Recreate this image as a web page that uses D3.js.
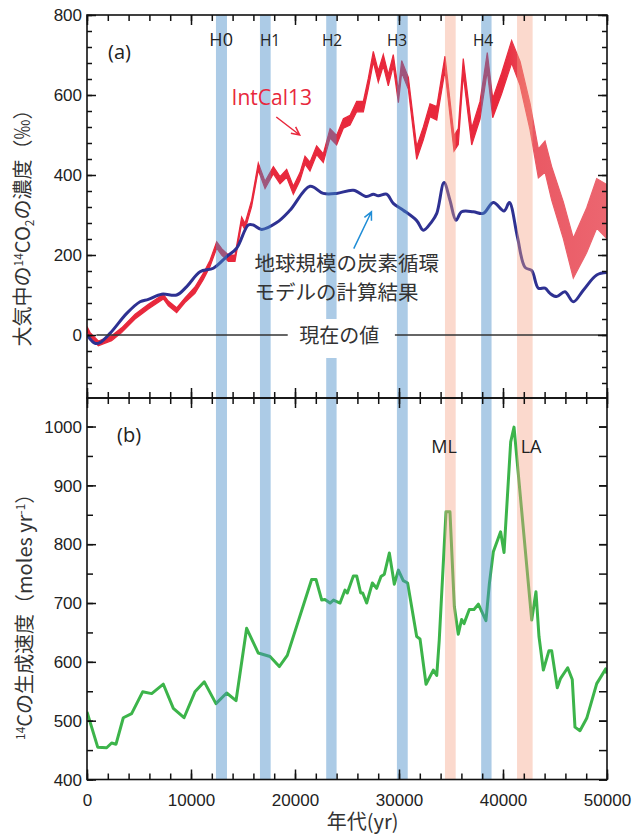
<!DOCTYPE html>
<html>
<head>
<meta charset="utf-8">
<script src="https://cdn.jsdelivr.net/npm/d3@7"></script>
<style>
  body { margin: 0; background: #fff; }
  svg { display: block; }
  .tick text { font-family: "Liberation Sans", Arial, sans-serif; font-size: 17px; fill: #222; }
  .jp { font-family: "Noto Sans CJK JP", sans-serif; fill: #333; }
  .lat { font-family: "Open Sans", sans-serif; fill: #222; }
</style>
</head>
<body>
<svg width="635" height="834"></svg>
<script>
const WIDTH = 635, HEIGHT = 834;
const LEFT = 87, RIGHT = 607, TOP = 15, MID = 398, BOTTOM = 779.5;

// IntCal13 (centre and half width of the band), per mil
const icYear = [0, 300, 1090, 2370, 3330, 4620, 5900, 7340, 7820, 8620, 9420, 10380, 11180, 11830, 12470, 12950,
  13590, 14230, 14870, 15190, 15830, 16470, 17120, 17920, 18560, 19200, 19840, 20480, 20960, 21440, 22080, 22720,
  23370, 24000, 24650, 25290, 25930, 26570, 27050, 27530, 28010, 28490, 28970, 29450, 29940, 30260, 30900, 31700,
  32340, 32980, 33630, 34420, 35290, 35700, 36180, 36990, 37790, 38490, 39010, 39870, 40830, 41640, 42600, 43400,
  44040, 44680, 45800, 46760, 48050, 49010, 50000];
const icMid = [15, 0, -21, -8, 12, 46, 71, 96, 79, 62, 87, 112, 146, 179, 225, 208,
  192, 192, 287, 271, 329, 421, 375, 412, 387, 404, 362, 396, 437, 421, 462, 442,
  504, 487, 529, 537, 571, 571, 629, 696, 646, 687, 637, 687, 596, 671, 629, 455,
  504, 562, 554, 679, 479, 496, 671, 496, 562, 683, 567, 629, 708, 654, 546, 429,
  446, 379, 287, 192, 262, 329, 308];
const icErr = [6, 6, 6, 6, 6, 6, 6, 6, 6, 6, 6, 8, 8, 8, 8, 8,
  8, 8, 8, 8, 8, 9, 9, 9, 9, 10, 10, 10, 10, 11, 11, 11,
  12, 12, 12, 12, 13, 13, 13, 13, 14, 14, 14, 14, 15, 15, 15, 16,
  16, 16, 17, 18, 19, 20, 20, 21, 22, 23, 24, 26, 28, 30, 33, 36,
  39, 42, 46, 50, 56, 62, 68];

// carbon cycle model, per mil
const modelYear = [0, 770, 1250, 2210, 3820, 5100, 5900, 7180, 8620, 9590, 10870, 12150, 13430, 14390, 15510, 15990,
  16790, 18240, 19520, 21440, 22720, 24000, 25610, 26890, 27530, 28010, 28810, 29450, 30410, 31700, 32340, 33140,
  33630, 34330, 34900, 35480, 36020, 37140, 38100, 39070, 40100, 40610, 41380, 42120, 42760, 43400, 44040, 44520,
  45160, 45960, 46760, 47720, 49010, 50000];
const modelVal = [0, -21, -19, 4, 54, 83, 89, 102, 100, 121, 158, 167, 196, 217, 275, 275,
  264, 281, 312, 372, 354, 354, 362, 346, 352, 348, 352, 329, 312, 286, 262, 283,
  304, 381, 337, 287, 308, 308, 304, 331, 310, 331, 246, 169, 161, 117, 117, 104,
  96, 108, 83, 112, 150, 156];

// 14C production rate, moles/yr
const prodYear = [0, 1030, 1890, 2370, 2790, 3490, 4290, 5350, 6220, 7340, 8300, 9330, 10380, 11280, 12400, 13430,
  14330, 15350, 16470, 17600, 18490, 19260, 21600, 22020, 22570, 22880, 23370, 23700, 24330, 24810, 25030, 25610,
  25930, 26320, 26510, 26890, 27440, 27850, 28270, 28590, 29070, 29550, 29940, 30410, 30830, 31700, 32020, 32600,
  33300, 33630, 33870, 34520, 34900, 35320, 35700, 36020, 36250, 36760, 37210, 37630, 38360, 38690, 39070, 39770,
  40100, 40740, 41060, 42760, 43170, 43460, 43880, 44420, 44680, 45220, 45540, 46220, 46660, 46920, 47400, 48050,
  49010, 49880, 50000];
const prodVal = [515, 455, 454, 462, 460, 505, 512, 549, 546, 562, 521, 505, 549, 566, 529, 547,
  534, 657, 615, 609, 592, 611, 740, 740, 705, 706, 700, 705, 700, 722, 717, 746,
  746, 717, 717, 700, 734, 725, 745, 749, 785, 732, 756, 738, 734, 643, 639, 562,
  586, 577, 637, 855, 855, 694, 647, 672, 665, 689, 689, 698, 670, 733, 787, 821,
  786, 974, 999, 671, 719, 643, 586, 619, 619, 556, 572, 590, 570, 489, 483, 504,
  563, 588, 580];

// highlighted periods
const heinrich = ["H0", "H1", "H2", "H3", "H4"];
const heinrichStart = [12400, 16630, 23000, 29800, 37900];
const heinrichEnd = [13460, 17660, 24000, 30840, 38900];
const heinrichLabelX = [12900, 17600, 23560, 29810, 38080];
const excursion = ["ML", "LA"];
const excursionStart = [34420, 41350];
const excursionEnd = [35450, 42850];
const excursionLabelX = [34330, 42700];

const xTicks = [0, 10000, 20000, 30000, 40000, 50000];
const yTicksA = [0, 200, 400, 600, 800];
const yTicksB = [400, 500, 600, 700, 800, 900, 1000];

const svg = d3.select("svg");

const x = d3.scaleLinear().domain([0, 50000]).range([LEFT, RIGHT]);
const ya = d3.scaleLinear().domain([-157.5, 800]).range([MID, TOP]);
const yb = d3.scaleLinear().domain([400, 1048.5]).range([BOTTOM, MID]);

const defs = svg.append("defs");
defs.append("clipPath").attr("id", "clipA").append("rect")
    .attr("x", LEFT).attr("y", TOP).attr("width", RIGHT - LEFT).attr("height", MID - TOP);
defs.append("clipPath").attr("id", "clipB").append("rect")
    .attr("x", LEFT).attr("y", MID).attr("width", RIGHT - LEFT).attr("height", BOTTOM - MID);

// red band gets lighter (hatched look) for the oldest part
const grad = defs.append("linearGradient").attr("id", "icFill")
    .attr("gradientUnits", "userSpaceOnUse")
    .attr("x1", x(0)).attr("x2", x(50000)).attr("y1", 0).attr("y2", 0);
grad.append("stop").attr("offset", (40000 / 50000)).attr("stop-color", "#e8283c");
grad.append("stop").attr("offset", (43000 / 50000)).attr("stop-color", "#ea5964");
grad.append("stop").attr("offset", 1).attr("stop-color", "#ec6670");

const ic = icYear.map((yr, i) => ({yr, mid: icMid[i], err: icErr[i]}));
const model = modelYear.map((yr, i) => ({yr, v: modelVal[i]}));
const prod = prodYear.map((yr, i) => ({yr, v: prodVal[i]}));

const gA = svg.append("g").attr("clip-path", "url(#clipA)");
gA.append("path")
    .datum(ic)
    .attr("fill", "url(#icFill)")
    .attr("stroke", "url(#icFill)")
    .attr("stroke-width", 1.2)
    .attr("d", d3.area()
        .x(d => x(d.yr))
        .y0(d => ya(d.mid - d.err))
        .y1(d => ya(d.mid + d.err)));

gA.append("path")
    .datum(model)
    .attr("fill", "none")
    .attr("stroke", "#2e3192")
    .attr("stroke-width", 3)
    .attr("stroke-linejoin", "round")
    .attr("d", d3.line().x(d => x(d.yr)).y(d => ya(d.v)).curve(d3.curveCatmullRom));

const gB = svg.append("g").attr("clip-path", "url(#clipB)");
gB.append("path")
    .datum(prod)
    .attr("fill", "none")
    .attr("stroke", "#3cb44a")
    .attr("stroke-width", 3)
    .attr("stroke-linejoin", "round")
    .attr("d", d3.line().x(d => x(d.yr)).y(d => yb(d.v)));

// translucent bands over the curves
const bands = svg.append("g");
heinrich.forEach((h, i) => {
  bands.append("rect")
      .attr("x", x(heinrichStart[i])).attr("width", x(heinrichEnd[i]) - x(heinrichStart[i]))
      .attr("y", TOP).attr("height", BOTTOM - TOP)
      .attr("fill", "rgb(70,140,200)").attr("fill-opacity", 0.45);
});
excursion.forEach((e, i) => {
  bands.append("rect")
      .attr("x", x(excursionStart[i])).attr("width", x(excursionEnd[i]) - x(excursionStart[i]))
      .attr("y", TOP).attr("height", BOTTOM - TOP)
      .attr("fill", "rgb(245,160,130)").attr("fill-opacity", 0.4);
});

// present-day line with its label
svg.append("line")
    .attr("x1", x(900)).attr("x2", x(19300)).attr("y1", ya(0)).attr("y2", ya(0))
    .attr("stroke", "#333").attr("stroke-width", 1.3);
svg.append("line")
    .attr("x1", x(29600)).attr("x2", RIGHT).attr("y1", ya(0)).attr("y2", ya(0))
    .attr("stroke", "#333").attr("stroke-width", 1.3);
svg.append("rect")
    .attr("x", x(19350)).attr("width", x(29550) - x(19350))
    .attr("y", ya(0) - 16).attr("height", 39)
    .attr("fill", "#fff");
svg.append("text").attr("class", "jp")
    .attr("x", x(20400)).attr("y", ya(0) + 8)
    .style("font-size", "20px")
    .text("現在の値");

// frames
svg.append("rect").attr("x", LEFT).attr("y", TOP).attr("width", RIGHT - LEFT).attr("height", MID - TOP)
    .attr("fill", "none").attr("stroke", "#111").attr("stroke-width", 1.6);
svg.append("rect").attr("x", LEFT).attr("y", MID).attr("width", RIGHT - LEFT).attr("height", BOTTOM - MID)
    .attr("fill", "none").attr("stroke", "#111").attr("stroke-width", 1.6);

function ticks(axis, tx, ty, values, size, fmt) {
  const g = svg.append("g")
      .attr("transform", `translate(${tx},${ty})`)
      .call(axis.tickValues(values).tickSizeInner(size).tickSizeOuter(0).tickPadding(5)
          .tickFormat(fmt || (() => "")));
  g.select(".domain").remove();
  g.selectAll(".tick line").attr("stroke", "#111").attr("stroke-width", 1.5);
  return g;
}

const xMinor = d3.range(0, 50001, 2000);
const yMinorA = d3.range(-160, 801, 40).filter(v => v > -157.5);
const yMinorB = d3.range(400, 1049, 50);

// x ticks: bottom of b (labels), both sides of the shared border, top of a
ticks(d3.axisBottom(x), 0, BOTTOM, xMinor, -6);
ticks(d3.axisBottom(x), 0, BOTTOM, xTicks, -10, d3.format("d"));
ticks(d3.axisBottom(x), 0, MID, xMinor, -6);
ticks(d3.axisBottom(x), 0, MID, xTicks, -10);
ticks(d3.axisTop(x), 0, MID, xMinor, -6);
ticks(d3.axisTop(x), 0, MID, xTicks, -10);
ticks(d3.axisTop(x), 0, TOP, xMinor, -6);
ticks(d3.axisTop(x), 0, TOP, xTicks, -10);

// y ticks panel a
ticks(d3.axisLeft(ya), LEFT, 0, yMinorA, -5);
ticks(d3.axisLeft(ya), LEFT, 0, yTicksA, -9, d3.format("d"));
ticks(d3.axisRight(ya), RIGHT, 0, yMinorA, -5);
ticks(d3.axisRight(ya), RIGHT, 0, yTicksA, -9);

// y ticks panel b
ticks(d3.axisLeft(yb), LEFT, 0, yMinorB, -6);
ticks(d3.axisLeft(yb), LEFT, 0, yTicksB, -9, d3.format("d"));
ticks(d3.axisRight(yb), RIGHT, 0, yMinorB, -8);
ticks(d3.axisRight(yb), RIGHT, 0, yTicksB, -8);

svg.selectAll(".tick text").attr("dy", null);
svg.selectAll("g").filter(function () { return this.getAttribute("transform") === `translate(0,${BOTTOM})`; })
    .selectAll(".tick text").attr("y", 26);
svg.selectAll(".tick text").filter(function () { return this.getAttribute("x") !== null && +this.getAttribute("x") < 0; })
    .attr("dy", "0.34em");

// panel labels
svg.append("text").attr("class", "lat").attr("x", 108).attr("y", ya(690)).style("font-size", "20px").text("(a)");
svg.append("text").attr("class", "lat").attr("x", 117).attr("y", yb(973)).style("font-size", "20px").text("(b)");

heinrich.forEach((h, i) => {
  svg.append("text").attr("class", "lat")
      .attr("x", x(heinrichLabelX[i])).attr("y", ya(722))
      .attr("text-anchor", "middle")
      .style("font-size", i === 0 ? "18px" : "15.5px")
      .text(h);
});
excursion.forEach((e, i) => {
  svg.append("text").attr("class", "lat")
      .attr("x", x(excursionLabelX[i])).attr("y", yb(955))
      .attr("text-anchor", "middle")
      .style("font-size", "18px")
      .text(e);
});

// annotations
svg.append("text").attr("class", "lat")
    .attr("x", x(13900)).attr("y", ya(576))
    .style("font-size", "21px").style("fill", "#e8283c")
    .text("IntCal13");

function arrow(x1, y1, x2, y2, color) {
  const a = Math.atan2(y2 - y1, x2 - x1), h = 9;
  const p = d3.path();
  p.moveTo(x1, y1); p.lineTo(x2, y2);
  p.moveTo(x2 - h * Math.cos(a - 0.45), y2 - h * Math.sin(a - 0.45));
  p.lineTo(x2, y2);
  p.lineTo(x2 - h * Math.cos(a + 0.45), y2 - h * Math.sin(a + 0.45));
  svg.append("path").attr("d", p.toString()).attr("fill", "none")
      .attr("stroke", color).attr("stroke-width", 1.5);
}
arrow(x(18200), ya(545), x(20450), ya(500), "#e8283c");
arrow(x(25650), ya(216), x(27350), ya(308), "#1f8dd6");

const modelNote = svg.append("text").attr("class", "jp")
    .attr("x", x(16100)).attr("y", ya(160))
    .style("font-size", "20.5px");
modelNote.append("tspan").text("地球規模の炭素循環");
modelNote.append("tspan").attr("x", x(16100)).attr("dy", 28.5).text("モデルの計算結果");

// axis titles
const ta = svg.append("text").attr("class", "jp")
    .attr("transform", `translate(30,${(ya(-40) + ya(600)) / 2}) rotate(-90)`)
    .attr("text-anchor", "middle")
    .style("font-size", "20px");
ta.append("tspan").text("大気中の");
ta.append("tspan").attr("dy", -7).style("font-size", "12px").text("14");
ta.append("tspan").attr("dy", 7).text("CO");
ta.append("tspan").attr("dy", 4).style("font-size", "12px").text("2");
ta.append("tspan").attr("dy", -4).text("の濃度（‰）");

const tb = svg.append("text").attr("class", "jp")
    .attr("transform", `translate(32,${(yb(430) + yb(940)) / 2}) rotate(-90)`)
    .attr("text-anchor", "middle")
    .style("font-size", "20px");
tb.append("tspan").attr("dy", -7).style("font-size", "12px").text("14");
tb.append("tspan").attr("dy", 7).text("Cの生成速度（moles yr");
tb.append("tspan").attr("dy", -7).style("font-size", "12px").text("-1");
tb.append("tspan").attr("dy", 7).text("）");

svg.append("text").attr("class", "jp")
    .attr("x", x(26500)).attr("y", 829)
    .attr("text-anchor", "middle")
    .style("font-size", "20px")
    .text("年代(yr)");
</script>
</body>
</html>
